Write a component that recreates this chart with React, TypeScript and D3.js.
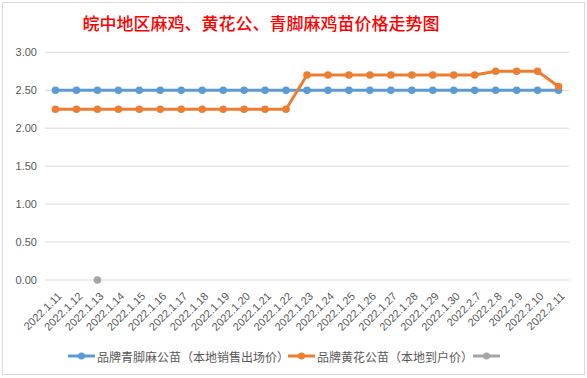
import React from "react";
import * as d3 from "d3";

const categories = [
  "2022.1.11", "2022.1.12", "2022.1.13", "2022.1.14", "2022.1.15", "2022.1.16",
  "2022.1.17", "2022.1.18", "2022.1.19", "2022.1.20", "2022.1.21", "2022.1.22",
  "2022.1.23", "2022.1.24", "2022.1.25", "2022.1.26", "2022.1.27", "2022.1.28",
  "2022.1.29", "2022.1.30", "2022.2.7", "2022.2.8", "2022.2.9", "2022.2.10", "2022.2.11",
];
const blueValues = [
  2.5, 2.5, 2.5, 2.5, 2.5, 2.5, 2.5, 2.5, 2.5, 2.5, 2.5, 2.5,
  2.5, 2.5, 2.5, 2.5, 2.5, 2.5, 2.5, 2.5, 2.5, 2.5, 2.5, 2.5, 2.5,
];
const orangeValues = [
  2.25, 2.25, 2.25, 2.25, 2.25, 2.25, 2.25, 2.25, 2.25, 2.25, 2.25, 2.25,
  2.7, 2.7, 2.7, 2.7, 2.7, 2.7, 2.7, 2.7, 2.7, 2.75, 2.75, 2.75, 2.55,
];
const grayValues: (number | null)[] = [
  null, null, 0, null, null, null, null, null, null, null, null, null,
  null, null, null, null, null, null, null, null, null, null, null, null, null,
];
const yTicks = [0, 0.5, 1, 1.5, 2, 2.5, 3];
const seriesNames = ["品牌青脚麻公苗（本地销售出场价）", "品牌黄花公苗（本地到户价）", ""];
const seriesColors = ["#5B9BD5", "#ED7D31", "#A5A5A5"];
const title = "皖中地区麻鸡、黄花公、青脚麻鸡苗价格走势图";

const W = 587;
const H = 378;
const plotLeft = 45;
const plotRight = 569;
const plotTop = 52.3;
const plotBottom = 280;

export default function App() {
  const x = d3.scaleBand<string>().domain(categories).range([plotLeft, plotRight]);
  const y = d3.scaleLinear().domain([0, 3]).range([plotBottom, plotTop]);
  const cx = (c: string) => (x(c) as number) + x.bandwidth() / 2;

  const line = d3
    .line<number | null>()
    .defined((d) => d !== null)
    .x((_, i) => cx(categories[i]))
    .y((d) => y(d as number));

  const series = [blueValues, orangeValues, grayValues];
  const font = "'Liberation Sans', Arial, sans-serif";
  const cjk = "'Noto Sans CJK SC', sans-serif";
  const textColor = "#595959";

  const legendItems = [
    { lx: 68, tx: 97 },
    { lx: 288, tx: 317 },
    { lx: 473, tx: 503 },
  ];

  return (
    <svg
      width={W}
      height={H}
      style={{ position: "absolute", left: 0, top: 0, background: "#fff" }}
    >
      <rect x={2.5} y={2.5} width={582} height={372} fill="#fff" stroke="#D9D9D9" strokeWidth={1} />
      <text
        x={261}
        y={22}
        textAnchor="middle"
        dominantBaseline="central"
        fill="#FF0000"
        fontSize={17}
        fontWeight={500}
        fontFamily={cjk}
      >
        {title}
      </text>
      {yTicks.map((t) => (
        <g key={t}>
          <line x1={plotLeft} x2={plotRight} y1={y(t)} y2={y(t)} stroke="#D9D9D9" strokeWidth={1} />
          <text
            x={37}
            y={y(t)}
            textAnchor="end"
            dominantBaseline="central"
            fontSize={11}
            fontFamily={font}
            fill={textColor}
          >
            {t.toFixed(2)}
          </text>
        </g>
      ))}
      {categories.map((c) => (
        <text
          key={c}
          transform={`translate(${cx(c) + 4},${294}) rotate(-45)`}
          textAnchor="end"
          dominantBaseline="central"
          fontSize={11}
          fontFamily={font}
          fill={textColor}
        >
          {c}
        </text>
      ))}
      {series.map((vals, si) => (
        <g key={si}>
          <path
            d={line(vals) || ""}
            fill="none"
            stroke={seriesColors[si]}
            strokeWidth={3}
            strokeLinejoin="round"
          />
          {vals.map((v, i) =>
            v === null ? null : (
              <circle key={i} cx={cx(categories[i])} cy={y(v)} r={3.8} fill={seriesColors[si]} />
            )
          )}
        </g>
      ))}
      {legendItems.map((it, si) => (
        <g key={si}>
          <line
            x1={it.lx}
            x2={it.lx + 27}
            y1={356}
            y2={356}
            stroke={seriesColors[si]}
            strokeWidth={3}
          />
          <circle cx={it.lx + 13.5} cy={356} r={3.5} fill={seriesColors[si]} />
          <text
            x={it.tx}
            y={356}
            dominantBaseline="central"
            fontSize={12}
            fontFamily={cjk}
            fill={textColor}
          >
            {seriesNames[si]}
          </text>
        </g>
      ))}
    </svg>
  );
}
